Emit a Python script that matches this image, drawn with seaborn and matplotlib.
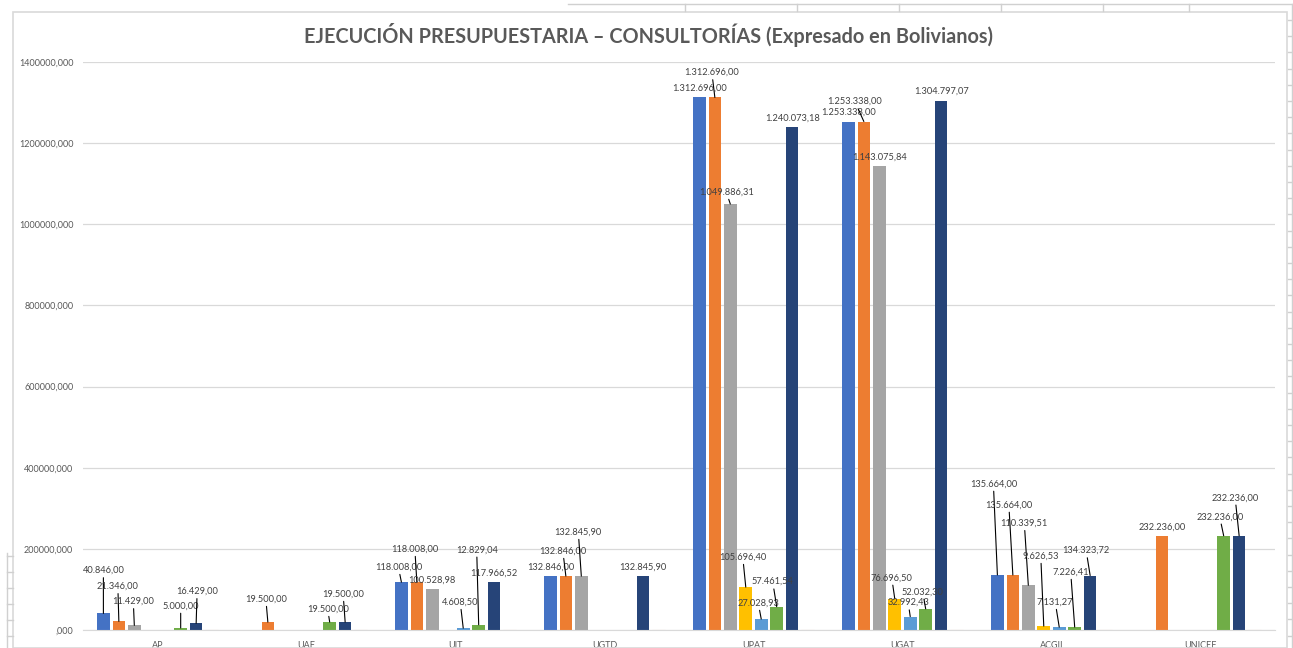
import pandas as pd
import matplotlib.pyplot as plt
import matplotlib.lines as mlines
import matplotlib.patches as mpatches
import seaborn as sns

unidades = ["AP", "UAF", "UIT", "UGTD", "UPAT", "UGAT", "ACGII", "UNICEF"]
series = ["Serie 1", "Serie 2", "Serie 3", "Serie 4", "Serie 5", "Serie 6", "Serie 7", "Serie 8"]
serie_1 = [40846.00, 0, 118008.00, 132846.00, 1312696.00, 1253338.00, 135664.00, 0]
serie_2 = [21346.00, 19500.00, 118008.00, 132846.00, 1312696.00, 1253338.00, 135664.00, 232236.00]
serie_3 = [11429.00, 0, 100528.98, 132845.90, 1049886.31, 1143075.84, 110339.51, 0]
serie_4 = [0, 0, 0, 0, 105696.40, 76696.50, 9626.53, 0]
serie_5 = [0, 0, 4608.50, 0, 27028.93, 32992.43, 7131.27, 0]
serie_6 = [5000.00, 19500.00, 12829.04, 0, 57461.54, 52032.30, 7226.41, 232236.00]
serie_7 = [16429.00, 19500.00, 117966.52, 132845.90, 1240073.18, 1304797.07, 134323.72, 232236.00]
serie_8 = [0, 0, 0, 0, 0, 0, 0, 0]
colores = ["#4472C4", "#ED7D31", "#A5A5A5", "#FFC000", "#5B9BD5", "#70AD47", "#264478", "#9E480E"]

valores = [serie_1, serie_2, serie_3, serie_4, serie_5, serie_6, serie_7, serie_8]
df = pd.DataFrame(
    [(u, s, v[i]) for s, v in zip(series, valores) for i, u in enumerate(unidades)],
    columns=["Unidad", "Serie", "Monto"],
)

# desplazamiento de etiquetas movidas a mano (pixeles: dx, dy sobre el tope de la barra)
etiquetas_movidas = {
    ("AP", 0): (0, 43), ("AP", 1): (-1, 35), ("AP", 2): (-1, 24), ("AP", 5): (0, 22), ("AP", 6): (1, 32),
    ("UAF", 1): (-2, 23), ("UAF", 5): (-2, 13), ("UAF", 6): (-2, 28),
    ("UIT", 0): (-3, 15), ("UIT", 1): (-2, 33), ("UIT", 4): (-3, 26), ("UIT", 5): (-2, 75),
    ("UGTD", 1): (-3, 25), ("UGTD", 2): (-3, 44),
    ("UPAT", 1): (-3, 25), ("UPAT", 2): (-4, 12), ("UPAT", 3): (-3, 30), ("UPAT", 4): (-3, 16), ("UPAT", 5): (-4, 25),
    ("UGAT", 1): (-9, 20), ("UGAT", 3): (-3, 21), ("UGAT", 4): (-2, 14), ("UGAT", 5): (-3, 17),
    ("ACGII", 0): (-4, 91), ("ACGII", 1): (-4, 70), ("ACGII", 2): (-4, 62), ("ACGII", 3): (-3, 70),
    ("ACGII", 4): (-4, 25), ("ACGII", 5): (-4, 55), ("ACGII", 6): (-4, 25),
    ("UNICEF", 5): (-4, 19), ("UNICEF", 6): (-4, 38),
}

W, H = 1293, 648
plt.rcParams["font.family"] = ["Lato", "DejaVu Sans"]
fig = plt.figure(figsize=(W / 100, H / 100), dpi=100)
ax = fig.add_axes([83 / W, 1 - 630 / H, (1275 - 83) / W, (630 - 62) / H])

sns.barplot(data=df, x="Unidad", y="Monto", hue="Serie", hue_order=series, order=unidades,
            palette=colores, saturation=1, width=0.83, gap=0.18, linewidth=0, legend=False, ax=ax)

ax.set_ylim(0, 1400000)
ax.set_yticks(range(0, 1400001, 200000))
ax.set_yticklabels([",000" if t == 0 else f"{t},000" for t in range(0, 1400001, 200000)])
ax.set_xlabel("")
ax.set_ylabel("")
ax.yaxis.grid(True, color="#d9d9d9", lw=0.9)
ax.set_axisbelow(True)
for lado in ["top", "right", "left"]:
    ax.spines[lado].set_visible(False)
ax.spines["bottom"].set_color("#d9d9d9")
ax.tick_params(axis="both", length=0, colors="#595959", labelsize=6.5)
ax.tick_params(axis="y", pad=7)
ax.tick_params(axis="x", pad=8)


def formato(v):
    return f"{v:,.2f}".replace(",", "#").replace(".", ",").replace("#", ".")


for k, cont in enumerate(ax.containers):
    for j, barra in enumerate(cont):
        v = barra.get_height()
        xc = barra.get_x() + barra.get_width() / 2
        if k == 7:
            barra.set_edgecolor("#e9c9b8")
            barra.set_linewidth(0.8)
            continue
        if v <= 0:
            continue
        clave = (unidades[j], k)
        if clave in etiquetas_movidas:
            dx, dy = etiquetas_movidas[clave]
            ax.annotate(formato(v), xy=(xc, v), xytext=(dx, dy), textcoords="offset pixels",
                        ha="center", va="center", fontsize=6.7, color="#404040",
                        arrowprops=dict(arrowstyle="-", color="black", lw=0.8, shrinkA=0, shrinkB=0))
        else:
            ax.annotate(formato(v), xy=(xc, v), xytext=(0, 9), textcoords="offset pixels",
                        ha="center", va="center", fontsize=6.7, color="#404040")

fig.text(649 / W, 1 - 35 / H, "EJECUCIÓN PRESUPUESTARIA – CONSULTORÍAS (Expresado en Bolivianos)",
         ha="center", va="center", fontsize=14.3, fontweight="bold", color="#595959")


# bordes de la hoja de calculo alrededor del grafico
def linea(x0, y0, x1, y1, c="#d0d0d0", lw=1.0):
    fig.add_artist(mlines.Line2D([x0 / W, x1 / W], [1 - y0 / H, 1 - y1 / H], color=c, lw=lw))


fig.add_artist(mpatches.Rectangle((13 / W, 0), (1287 - 13) / W, 1 - 12 / H, transform=fig.transFigure,
                                  fill=False, edgecolor="#d9d9d9", lw=1.2))
linea(568, 4, 1292, 4)
for xv in [685, 797, 899, 1001, 1103, 1189]:
    linea(xv, 4, xv, 11)
linea(1292, 4, 1292, H)
y = 20.0
while y < H:
    linea(1288, y, 1292, y)
    y += 16.2
linea(7, 553, 7, H)
for yh in [556, 572, 588, 604, 620, 636]:
    linea(7, yh, 13, yh)

fig.savefig("out.png", dpi=100)
